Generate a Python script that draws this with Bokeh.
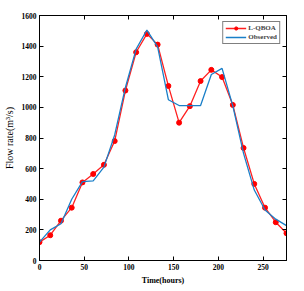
from bokeh.plotting import figure
from bokeh.models import LinearAxis, FixedTicker, Range1d, Legend, LegendItem
from bokeh.embed import file_html
from bokeh.resources import INLINE

hours = [0, 12, 24, 36, 48, 60, 72, 84, 96, 108, 120, 132, 144, 156, 168, 180, 192, 204, 216, 228, 240, 252, 264, 276]
lqboa = [120, 165, 260, 345, 510, 565, 625, 780, 1110, 1360, 1480, 1410, 1140, 900, 1008, 1172, 1245, 1198, 1016, 735, 500, 345, 250, 178]
observed = [120, 200, 240, 400, 515, 520, 610, 820, 1130, 1380, 1505, 1395, 1050, 1012, 1012, 1012, 1215, 1255, 1010, 700, 460, 330, 270, 228]
x_ticks = [0, 50, 100, 150, 200, 250]
y_ticks = [0, 200, 400, 600, 800, 1000, 1200, 1400, 1600]

FONT = "Liberation Serif"

p = figure(width=300, height=288, output_backend="svg", toolbar_location=None,
           x_range=Range1d(0, 276), y_range=Range1d(0, 1600),
           min_border_left=38, min_border_right=14, min_border_top=15, min_border_bottom=28)
p.grid.visible = False
p.outline_line_color = "black"
p.outline_line_width = 1

def style_axis(ax, labels=True):
    ax.major_tick_in = 4
    ax.major_tick_out = 0
    ax.minor_tick_line_color = None
    ax.axis_line_color = "black"
    ax.major_tick_line_color = "black"
    ax.major_label_text_font = FONT
    ax.major_label_text_font_size = "7.5px"
    ax.major_label_text_font_style = "bold"
    ax.major_label_text_color = "black"
    ax.major_label_standoff = 3
    ax.axis_label_text_font = FONT
    ax.axis_label_text_font_size = "8px"
    ax.axis_label_text_color = "black"
    ax.axis_label_standoff = 3
    if not labels:
        ax.major_label_text_font_size = "0px"
        ax.major_label_text_color = None

p.xaxis.ticker = FixedTicker(ticks=x_ticks)
p.yaxis.ticker = FixedTicker(ticks=y_ticks)
p.xaxis.axis_label = "Time(hours)"
p.yaxis.axis_label = "Flow rate(m\u00b3/s)"
style_axis(p.xaxis[0])
style_axis(p.yaxis[0])
p.xaxis.axis_label_text_font_style = "bold"
p.yaxis.axis_label_text_font_style = "normal"
p.yaxis.axis_label_text_font_size = "10px"
p.yaxis.axis_label_standoff = 4

top = LinearAxis(ticker=FixedTicker(ticks=x_ticks))
right = LinearAxis(ticker=FixedTicker(ticks=y_ticks))
style_axis(top, labels=False)
style_axis(right, labels=False)
p.add_layout(top, "above")
p.add_layout(right, "right")

r1 = p.line(hours, lqboa, line_color="#ff2020", line_width=1.3)
r1c = p.scatter(hours, lqboa, size=5, fill_color="#ff0000", line_color="#ff0000")
r2 = p.line(hours, observed, line_color="#1a7fc8", line_width=1.3)

legend = Legend(items=[LegendItem(label="L-QBOA", renderers=[r1, r1c]),
                       LegendItem(label="Observed", renderers=[r2])],
                location="top_right")
legend.label_text_font = FONT
legend.label_text_font_size = "7px"
legend.label_text_font_style = "bold"
legend.label_height = 8
legend.glyph_height = 8
legend.glyph_width = 21
legend.spacing = 1
legend.padding = 2
legend.margin = 6
legend.label_standoff = 2
legend.border_line_color = "black"
legend.border_line_width = 1
p.add_layout(legend, "center")

open("out.html", "w").write(file_html(p, INLINE))
